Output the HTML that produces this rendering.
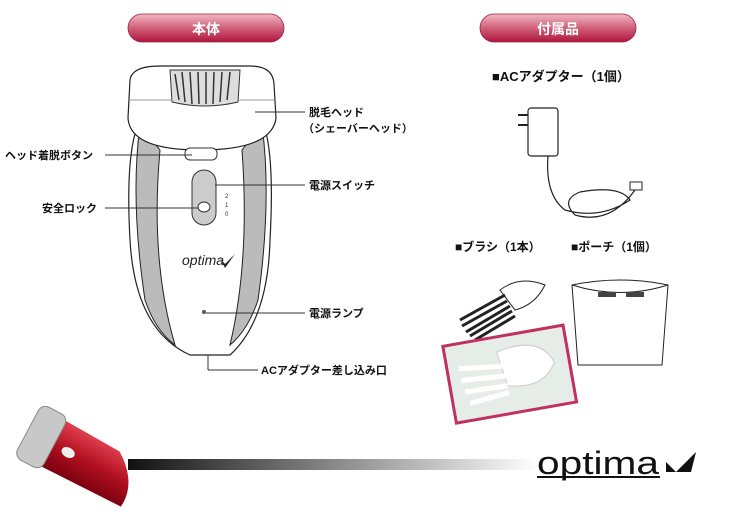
<!DOCTYPE html>
<html><head><meta charset="utf-8"><style>
body{margin:0;width:730px;height:522px;background:#fff;overflow:hidden;font-family:"Liberation Sans","Noto Sans CJK JP",sans-serif}
</style></head><body>
<svg width="730" height="522" viewBox="0 0 730 522" xmlns="http://www.w3.org/2000/svg" font-family="Liberation Sans, Noto Sans CJK JP, sans-serif">
<defs>
<linearGradient id="pill" x1="0" y1="0" x2="0" y2="1"><stop offset="0" stop-color="#f0b8c4"/><stop offset="0.5" stop-color="#d0607a"/><stop offset="1" stop-color="#b0163e"/></linearGradient>
<linearGradient id="bar" x1="0" x2="1"><stop offset="0" stop-color="#111"/><stop offset="1" stop-color="#fff"/></linearGradient>
<linearGradient id="red" x1="0" y1="0" x2="0" y2="1"><stop offset="0" stop-color="#e04050"/><stop offset="0.5" stop-color="#b01020"/><stop offset="1" stop-color="#7a0010"/></linearGradient>
</defs>
<rect x="128" y="14" width="156" height="28" rx="14" fill="url(#pill)" stroke="#a0203c" stroke-width="0.8"/>
<text x="206" y="34" font-size="14" font-weight="bold" fill="#fff" text-anchor="middle">本体</text>
<rect x="480" y="14" width="156" height="28" rx="14" fill="url(#pill)" stroke="#a0203c" stroke-width="0.8"/>
<text x="558" y="34" font-size="14" font-weight="bold" fill="#fff" text-anchor="middle">付属品</text>

<path d="M140 120 Q125 150 130 240 Q135 330 190 355 L230 355 Q268 320 270 240 Q275 150 262 120 Z" fill="#fff" stroke="#222" stroke-width="1.2"/>
<path d="M140 125 Q130 200 145 300 Q155 330 175 345 Q150 260 160 150 Z" fill="#bbb" stroke="#222"/>
<path d="M262 125 Q272 200 258 300 Q248 330 230 345 Q250 260 242 150 Z" fill="#bbb" stroke="#222"/>
<path d="M130 80 Q132 66 160 66 L250 66 Q273 66 274 84 L276 118 Q272 150 200 150 Q130 150 128 118 Z" fill="#fff" stroke="#222" stroke-width="1.2"/>
<path d="M170 70 L240 70 L238 102 Q205 110 172 102 Z" fill="#ddd" stroke="#333"/>
<path d="M175 74 l4 26 M182 72 l3 30 M190 72 l2 32 M198 72 l1 32 M206 72 l0 32 M214 72 l-1 32 M222 72 l-2 30 M230 72 l-3 28" stroke="#333" stroke-width="1.5"/>
<line x1="130" y1="100" x2="172" y2="100" stroke="#999"/><line x1="238" y1="100" x2="274" y2="100" stroke="#999"/>
<rect x="185" y="148" width="32" height="12" rx="5" fill="#fff" stroke="#333"/>
<rect x="192" y="170" width="24" height="55" rx="12" fill="#ccc" stroke="#333"/>
<ellipse cx="204" cy="207" rx="6" ry="5" fill="#fff" stroke="#333"/>
<text x="225" y="198" font-size="6" fill="#333">2</text><text x="225" y="207" font-size="6" fill="#333">1</text><text x="225" y="216" font-size="6" fill="#333">0</text>
<text x="182" y="265" font-size="14" font-style="italic" fill="#222">optima</text>
<path d="M220 258 l5 6 l10 -10 l-10 14 z" fill="#222"/>
<circle cx="204" cy="312" r="2" fill="#555"/>
<g stroke="#333" stroke-width="1">
<line x1="255" y1="112" x2="305" y2="112"/>
<line x1="105" y1="155" x2="192" y2="155"/>
<line x1="215" y1="185" x2="305" y2="185"/>
<line x1="105" y1="208" x2="198" y2="208"/>
<line x1="206" y1="313" x2="305" y2="313"/>
<line x1="208" y1="355" x2="208" y2="370"/><line x1="208" y1="370" x2="258" y2="370"/>
</g>
<g font-size="11" font-weight="bold" fill="#111">
<text x="309" y="116">脱毛ヘッド</text>
<text x="303" y="132">（シェーバーヘッド）</text>
<text x="5" y="159">ヘッド着脱ボタン</text>
<text x="309" y="189">電源スイッチ</text>
<text x="42" y="212">安全ロック</text>
<text x="309" y="317">電源ランプ</text>
<text x="261" y="374">ACアダプター差し込み口</text>
<text x="492" y="81" font-size="13">■ACアダプター（1個）</text>
<text x="455" y="251" font-size="12">■ブラシ（1本）</text>
<text x="571" y="251" font-size="12">■ポーチ（1個）</text>
</g>
<rect x="528" y="108" width="30" height="48" rx="3" fill="#fff" stroke="#222" stroke-width="1.2"/>
<path d="M528 115 l-10 0 M528 125 l-10 0" stroke="#222" stroke-width="2"/>
<path d="M548 156 Q545 195 565 210 Q600 220 630 200 Q620 185 580 192 Q560 200 575 215 Q610 225 635 190" fill="none" stroke="#222" stroke-width="1.2"/>
<rect x="630" y="182" width="12" height="8" fill="#fff" stroke="#222"/>
<path d="M500 290 Q520 275 545 285 Q535 305 515 310 Z" fill="#fff" stroke="#222"/>
<path d="M460 320 L505 295 M462 326 L507 301 M466 332 L510 306 M470 336 L512 311 M475 340 L515 316" stroke="#222" stroke-width="3"/>
<path d="M572 285 Q620 275 668 285 L662 365 L578 365 Z" fill="#fff" stroke="#222"/>
<path d="M572 285 Q620 300 668 285" fill="none" stroke="#222"/>
<rect x="598" y="292" width="18" height="5" fill="#444"/><rect x="626" y="292" width="18" height="5" fill="#444"/>
<g transform="rotate(-10 510 370)">
<rect x="448" y="335" width="122" height="78" fill="#e6ece8" stroke="#c03060" stroke-width="3"/>
<path d="M500 350 Q545 340 555 370 Q540 395 505 385 Z" fill="#fff" stroke="#ccc"/>
<path d="M460 360 L505 365 M460 372 L505 375 M462 384 L505 385 M465 396 L505 392" stroke="#fff" stroke-width="5"/>
</g>
<rect x="128" y="459" width="410" height="11" fill="url(#bar)"/>
<g transform="translate(14 -6) rotate(28 30 440)">
<path d="M38 418 L105 420 Q135 440 132 468 L38 470 Z" fill="url(#red)"/>
<rect x="14" y="414" width="30" height="60" rx="8" fill="#c8c8c8" stroke="#888"/>
<ellipse cx="60" cy="445" rx="7" ry="5" fill="#eee"/>
</g>
<text x="537" y="474" font-size="32" fill="#111" textLength="122" lengthAdjust="spacingAndGlyphs">optima</text>
<rect x="537" y="476" width="123" height="2" fill="#111"/>
<path d="M666 462 l10 10 l20 -20 l-5 20 l-25 0 z" fill="#111"/>
</svg>
</body></html>
